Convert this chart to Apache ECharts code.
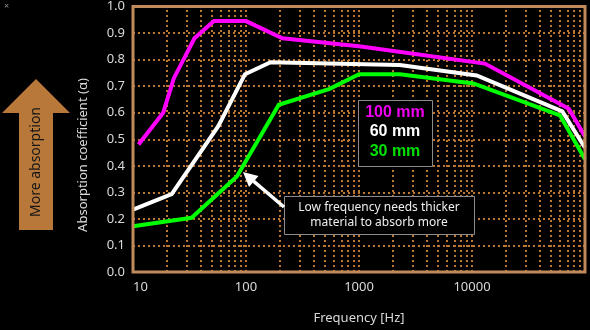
<!DOCTYPE html>
<html>
<head>
<meta charset="utf-8">
<script src="https://cdn.jsdelivr.net/npm/echarts@6/dist/echarts.min.js"></script>
<style>
html,body{margin:0;padding:0;background:#000;}
#chart{width:590px;height:330px;}
</style>
</head>
<body>
<div id="chart"></div>
<script>
// ---- data ----
const freq100 = [11.2, 18.5, 23, 35, 52, 100, 210, 1000, 13000, 72000, 100000];
const abs100  = [0.48, 0.60, 0.73, 0.88, 0.945, 0.945, 0.88, 0.85, 0.785, 0.615, 0.51];

const freq60 = [10, 22, 57, 98, 165, 2300, 11000, 63000, 100000];
const abs60  = [0.235, 0.293, 0.55, 0.745, 0.79, 0.78, 0.74, 0.605, 0.468];

const freq30 = [10, 33, 83, 195, 550, 1000, 2300, 10300, 60000, 100000];
const abs30  = [0.172, 0.204, 0.36, 0.63, 0.69, 0.745, 0.745, 0.71, 0.59, 0.425];

const seriesNames = ['100 mm', '60 mm', '30 mm'];
const yTickLabels = ['0.0','0.1','0.2','0.3','0.4','0.5','0.6','0.7','0.8','0.9','1.0'];
const xTickLabels = ['10', '100', '1000', '10000'];
const xTitle = 'Frequency [Hz]';
const yTitle = 'Absorption coefficient (\u03B1)';
const noteLines = ['Low frequency needs thicker', 'material to absorb more'];
const arrowText = 'More absorption';

// log-grid positions (2..9 within each decade, plus decades)
const decades = [10, 100, 1000, 10000];
const mults = [1, 2, 3, 4, 5, 6, 7, 8, 9];
const vGrid = [];
decades.forEach(d => mults.forEach(m => { const v = d * m; if (v > 10) vGrid.push(v); }));

const zip = (xs, ys) => xs.map((x, i) => [x, ys[i]]);

const orange = '#bc7630';
const labelColor = '#d9d9d9';
const font = 'Noto Sans';

const chart = echarts.init(document.getElementById('chart'), null, {renderer: 'canvas'});

const lineSeries = (name, data, color) => ({
  name, type: 'line', data, symbol: 'none', z: 5,
  lineStyle: {color, width: 4, cap: 'butt', join: 'miter'},
  itemStyle: {color},
  animation: false
});

chart.setOption({
  backgroundColor: '#000',
  animation: false,
  grid: {left: 133, right: 5, top: 6, bottom: 51, show: true, borderColor: '#c08a5a', borderWidth: 3, backgroundColor: 'transparent', z: 10},
  xAxis: {
    type: 'log', logBase: 10, min: 10, max: 100000,
    axisLine: {show: false}, axisTick: {show: false},
    splitLine: {show: false},
    axisLabel: {
      color: labelColor, fontSize: 13, fontFamily: font, margin: 9,
      showMaxLabel: false, alignMinLabel: 'left',
      formatter: v => xTickLabels.indexOf(String(Math.round(v))) >= 0 ? String(Math.round(v)) : ''
    },
    name: xTitle, nameLocation: 'middle', nameGap: 40,
    nameTextStyle: {color: labelColor, fontSize: 13, fontFamily: font}
  },
  yAxis: {
    type: 'value', min: 0, max: 1, interval: 0.1,
    axisLine: {show: false}, axisTick: {show: false},
    axisLabel: {color: labelColor, fontSize: 13, fontFamily: font, margin: 8,
      formatter: v => yTickLabels[Math.round(v * 10)]},
    splitLine: {show: true, lineStyle: {color: orange, width: 2, type: [2, 3]}}
  },
  series: [
    {
      type: 'line', data: [], silent: true, z: 1,
      markLine: {
        silent: true, symbol: 'none', animation: false,
        label: {show: false},
        lineStyle: {color: orange, width: 2, type: [2, 3]},
        emphasis: {disabled: true},
        data: vGrid.map(v => ({xAxis: v}))
      }
    },
    lineSeries(seriesNames[0], zip(freq100, abs100), '#ff00ff'),
    lineSeries(seriesNames[1], zip(freq60, abs60), '#ffffff'),
    lineSeries(seriesNames[2], zip(freq30, abs30), '#00ff00')
  ],
  graphic: [
    {type: 'text', left: 4, top: 2, style: {text: '\u00D7', fill: '#8a8a8a', font: '9px ' + font}},
    // Big brown arrow
    {type: 'polygon', shape: {points: [[36,79],[70,113],[53,113],[53,230],[19,230],[19,113],[2,113]]},
     style: {fill: '#b8783a'}},
    {type: 'text', x: 36, y: 162, rotation: Math.PI / 2,
     style: {text: arrowText, fill: '#151515', font: '14px ' + font, align: 'center', verticalAlign: 'middle'}},
    // y title
    {type: 'text', x: 83, y: 155, rotation: Math.PI / 2,
     style: {text: yTitle, fill: labelColor, font: '13px ' + font, align: 'center', verticalAlign: 'middle'}},
    // legend box
    {type: 'rect', shape: {x: 358.5, y: 100.5, width: 74, height: 66}, z: 20,
     style: {fill: '#000', stroke: '#8c8c8c', lineWidth: 1}},
    {type: 'text', x: 395, y: 113, z: 21, style: {text: seriesNames[0], fill: '#f000f0', font: 'bold 16px "Liberation Sans"', align: 'center', verticalAlign: 'middle'}},
    {type: 'text', x: 395, y: 132, z: 21, style: {text: seriesNames[1], fill: '#ffffff', font: 'bold 16px "Liberation Sans"', align: 'center', verticalAlign: 'middle'}},
    {type: 'text', x: 395, y: 152, z: 21, style: {text: seriesNames[2], fill: '#00e000', font: 'bold 16px "Liberation Sans"', align: 'center', verticalAlign: 'middle'}},
    // note box
    {type: 'rect', shape: {x: 284.5, y: 196.5, width: 190, height: 38}, z: 20,
     style: {fill: '#000', stroke: '#8c8c8c', lineWidth: 1}},
    {type: 'text', x: 379, y: 208, z: 21, style: {text: noteLines[0], fill: '#eeeeee', font: '12px ' + font, align: 'center', verticalAlign: 'middle'}},
    {type: 'text', x: 379, y: 223, z: 21, style: {text: noteLines[1], fill: '#eeeeee', font: '12px ' + font, align: 'center', verticalAlign: 'middle'}},
    // white pointer arrow
    {type: 'line', z: 21, shape: {x1: 284, y1: 207, x2: 253.5, y2: 181.2}, style: {stroke: '#ffffff', lineWidth: 3.5}},
    {type: 'polygon', z: 21, shape: {points: [[243,172],[258.5,176],[249,187]]}, style: {fill: '#ffffff'}}
  ]
});
</script>
</body>
</html>
